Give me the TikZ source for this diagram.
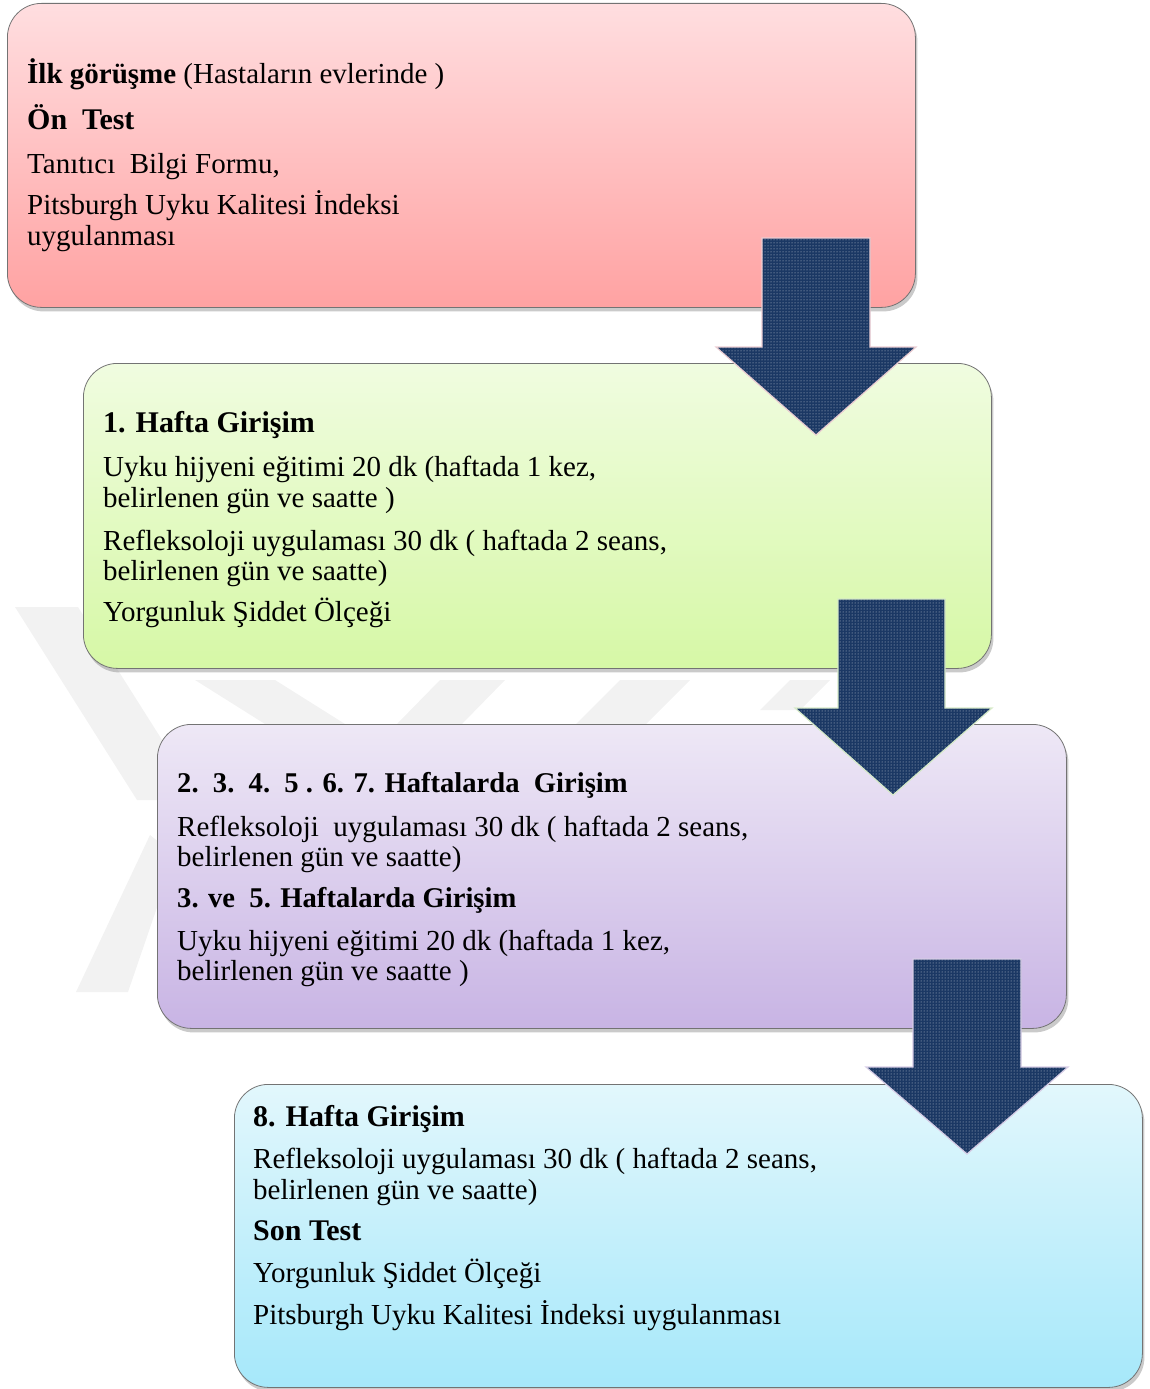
\documentclass[tikz,border=0pt]{standalone}
\usepackage{fontspec}
\setmainfont{Liberation Serif}
\usetikzlibrary{shadows,patterns}
\definecolor{navy}{RGB}{27,56,100}
\definecolor{wm}{RGB}{242,242,242}
\definecolor{edgeA}{RGB}{236,205,210}
\definecolor{edgeB}{RGB}{215,235,200}
\definecolor{edgeC}{RGB}{215,205,230}
\definecolor{b1top}{RGB}{255,222,224}
\definecolor{b1bot}{RGB}{255,162,162}
\definecolor{b2top}{RGB}{240,252,224}
\definecolor{b2bot}{RGB}{214,248,166}
\definecolor{b3top}{RGB}{238,232,246}
\definecolor{b3bot}{RGB}{200,180,228}
\definecolor{b4top}{RGB}{226,247,252}
\definecolor{b4bot}{RGB}{166,232,250}
\tikzset{
  box/.style={rounded corners=34pt, draw=black!55, line width=0.8pt, anchor=north west,
    inner sep=0pt, drop shadow={shadow xshift=2pt, shadow yshift=-4pt, opacity=0.35, fill=black!60}},
  txt/.style={anchor=base west, inner sep=0pt, font=\fontsize{29}{32}\selectfont},
  hd/.style={anchor=base west, inner sep=0pt, font=\fontsize{30}{32}\selectfont\bfseries},
  hdn/.style={anchor=base west, inner sep=0pt, font=\fontsize{28.6}{32}\selectfont\bfseries},
  darrow/.style={fill=navy, draw=#1, line width=1.2pt, line join=miter,
    postaction={pattern=dots, pattern color=white!75!navy}},
}
\begin{document}
\begin{tikzpicture}[x=1pt,y=-1pt]
\useasboundingbox (0,0) rectangle (1149,1389);
% watermark
\fill[wm] (15,607) -- (78,607) -- (200,800) -- (137,800) -- cycle;
\fill[wm] (76,992) -- (128,992) -- (175,855) -- (150,835) -- cycle;
\fill[wm] (195,680) -- (275,680) -- (345,724) -- (265,724) -- cycle;
\fill[wm] (440,680) -- (505,680) -- (462,724) -- (397,724) -- cycle;
\fill[wm] (620,680) -- (690,680) -- (646,724) -- (576,724) -- cycle;
\fill[wm] (790,680) -- (830,680) -- (800,710) -- (760,710) -- cycle;
% boxes
\node[box, minimum width=908pt, minimum height=304pt, top color=b1top, bottom color=b1bot] (b1) at (7,3) {};
\node[box, minimum width=908pt, minimum height=305pt, top color=b2top, bottom color=b2bot] (b2) at (83,363) {};
\node[box, minimum width=909pt, minimum height=304pt, top color=b3top, bottom color=b3bot] (b3) at (157,724) {};
\node[box, minimum width=908pt, minimum height=303pt, top color=b4top, bottom color=b4bot] (b4) at (234,1084) {};
% texts box 1
\node[txt] (t11) at (27,84) {\textbf{İlk görüşme} (Hastaların evlerinde )};
\node[hd] (t12) at (27,129) {Ön\ \ Test};
\node[txt] (t13) at (27,173) {Tanıtıcı\ \ Bilgi\ Formu,};
\node[txt] (t14) at (27,214) {Pitsburgh Uyku Kalitesi İndeksi};
\node[txt] (t15) at (27,245) {uygulanması};
% texts box 2
\node[hd] (t21) at (103,432) {1. Hafta Girişim};
\node[txt] (t22) at (103,476) {Uyku hijyeni eğitimi 20 dk (haftada 1 kez,};
\node[txt] (t23) at (103,507) {belirlenen gün ve saatte )};
\node[txt] (t24) at (103,550) {Refleksoloji uygulaması 30 dk ( haftada 2 seans,};
\node[txt] (t25) at (103,580) {belirlenen gün ve saatte)};
\node[txt] (t26) at (103,621) {Yorgunluk Şiddet Ölçeği};
% texts box 3
\node[hdn] (t31) at (177,792) {2.\ \ 3.\ \ 4.\ \ 5 . 6. 7. Haftalarda\ \ Girişim};
\node[txt] (t32) at (177,836) {Refleksoloji\ \ uygulaması 30 dk ( haftada 2 seans,};
\node[txt] (t33) at (177,866) {belirlenen gün ve saatte)};
\node[hdn] (t34) at (177,907) {3. ve\ \ 5. Haftalarda Girişim};
\node[txt] (t35) at (177,950) {Uyku hijyeni eğitimi 20 dk (haftada 1 kez,};
\node[txt] (t36) at (177,980) {belirlenen gün ve saatte )};
% texts box 4
\node[hd] (t41) at (253,1126) {8. Hafta Girişim};
\node[txt] (t42) at (253,1168) {Refleksoloji uygulaması 30 dk ( haftada 2 seans,};
\node[txt] (t43) at (253,1199) {belirlenen gün ve saatte)};
\node[hd] (t44) at (253,1240) {Son Test};
\node[txt] (t45) at (253,1282) {Yorgunluk Şiddet Ölçeği};
\node[txt] (t46) at (253,1324) {Pitsburgh Uyku Kalitesi İndeksi uygulanması};
% arrows
\draw[darrow=edgeA] (762,238) -- (870,238) -- (870,347) -- (916,347) -- (816,435) -- (716,347) -- (762,347) -- cycle;
\draw[darrow=edgeB] (838,599) -- (945,599) -- (945,708) -- (992,708) -- (893,795) -- (795,708) -- (838,708) -- cycle;
\draw[darrow=edgeC] (913,959) -- (1021,959) -- (1021,1067) -- (1068,1067) -- (967,1154) -- (866,1067) -- (913,1067) -- cycle;
\end{tikzpicture}
\end{document}
